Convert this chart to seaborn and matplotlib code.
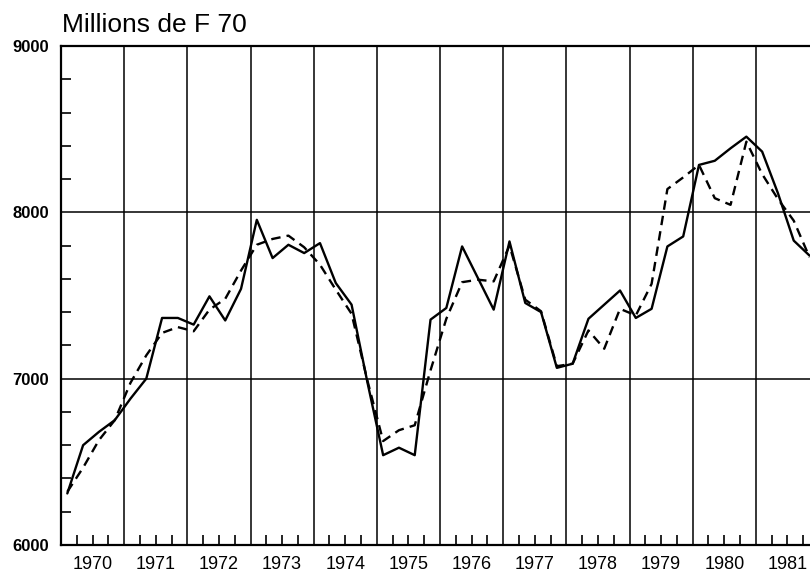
import numpy as np
import pandas as pd
import matplotlib
matplotlib.use('Agg')
import matplotlib.pyplot as plt
import seaborn as sns
from matplotlib.ticker import FixedLocator, FixedFormatter, MultipleLocator

sns.set_theme(style="white")
plt.rcParams['font.family'] = ['Liberation Sans', 'DejaVu Sans']
plt.rcParams.update({'text.color': 'black', 'xtick.color': 'black',
                     'ytick.color': 'black', 'axes.labelcolor': 'black'})

# quarterly values, millions de F 70
years = list(range(1970, 1982))
quarters = [1, 2, 3, 4]
serie_brute = [6310, 6600, 6680, 6750,
               6880, 7000, 7365, 7365,
               7325, 7495, 7350, 7540,
               7955, 7725, 7805, 7755,
               7815, 7575, 7445, 6980,
               6540, 6585, 6540, 7355,
               7425, 7795, 7605, 7415,
               7825, 7455, 7400, 7065,
               7090, 7360, 7445, 7530,
               7365, 7420, 7795, 7855,
               8285, 8310, 8385, 8455,
               8365, 8115, 7830, 7740]
serie_lissee = [6320, 6465, 6630, 6750,
                6975, 7140, 7275, 7310,
                7285, 7415, 7480, 7650,
                7805, 7840, 7860, 7790,
                7685, 7535, 7390, 6990,
                6625, 6690, 6720, 7050,
                7360, 7580, 7595, 7585,
                7800, 7475, 7405, 7075,
                7090, 7290, 7180, 7420,
                7380, 7570, 8140, 8210,
                8285, 8085, 8045, 8425,
                8230, 8080, 7950, 7730]
y_ticks = [6000, 7000, 8000, 9000]

annee = np.repeat(years, len(quarters))
trim = np.tile(quarters, len(years))
t = annee + (trim - 1) / 4 + 0.1

df = pd.concat([
    pd.DataFrame({'t': t, 'valeur': serie_brute, 'serie': 'brute'}),
    pd.DataFrame({'t': t, 'valeur': serie_lissee, 'serie': 'lissee'}),
])

fig = plt.figure(figsize=(8.1, 5.74), dpi=100)
ax = fig.add_axes([61 / 810, 29 / 574, 758 / 810, 499 / 574])

sns.lineplot(data=df, x='t', y='valeur', style='serie', style_order=['brute', 'lissee'],
             dashes={'brute': '', 'lissee': (4, 2.6)}, color='black', linewidth=1.7,
             legend=False, ax=ax)

ax.set_xlim(1970, 1982)
ax.set_ylim(6000, 9000)

# year boundaries -> grid lines, quarters -> small inner ticks, labels at mid-year
ax.xaxis.set_major_locator(FixedLocator(years + [1982]))
ax.xaxis.set_major_formatter(FixedFormatter([''] * (len(years) + 1)))
q_pos = [y + f for y in years for f in (0.25, 0.5, 0.75)]
q_lab = [str(y) if f == 0.5 else '' for y in years for f in (0.25, 0.5, 0.75)]
ax.xaxis.set_minor_locator(FixedLocator(q_pos))
ax.xaxis.set_minor_formatter(FixedFormatter(q_lab))

ax.set_yticks(y_ticks)
ax.set_yticklabels([str(v) for v in y_ticks], fontweight='bold')
ax.yaxis.set_minor_locator(MultipleLocator(200))

ax.tick_params(axis='x', which='major', length=0)
ax.tick_params(axis='x', which='minor', direction='in', length=7, width=1.2,
               color='black', labelcolor='black', labelsize=13, pad=8, bottom=True)
ax.tick_params(axis='y', which='major', length=0, labelsize=12, pad=8.5,
               labelcolor='black')
ax.tick_params(axis='y', which='minor', direction='in', length=7, width=1.2,
               color='black', left=True)

ax.grid(True, which='major', color='black', linewidth=1.1)
for side in ['left', 'bottom', 'top']:
    ax.spines[side].set_color('black')
    ax.spines[side].set_linewidth(1.6)
ax.spines['right'].set_visible(False)

ax.set_xlabel('')
ax.set_ylabel('')
fig.text(62 / 810, 1 - 32 / 574, 'Millions de F 70', fontsize=19, color='black',
         va='baseline', ha='left')

fig.savefig('out.png', dpi=100)
